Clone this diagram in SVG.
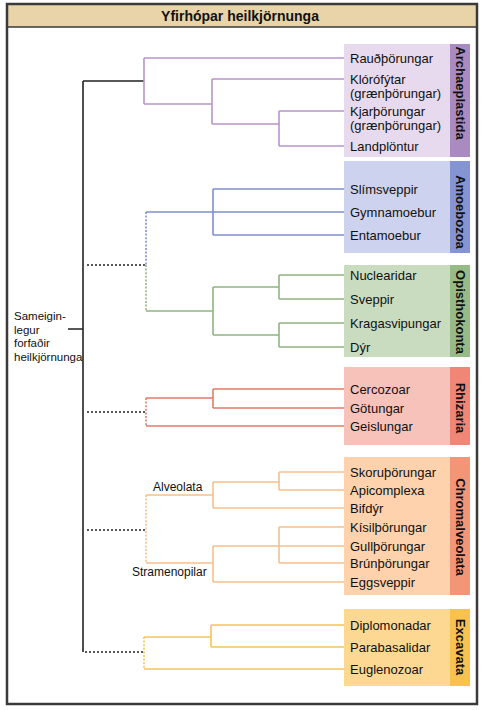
<svg xmlns="http://www.w3.org/2000/svg" width="485" height="710" viewBox="0 0 485 710">
<style>
text{font-family:"Liberation Sans",Arial,sans-serif;fill:#111}
.leaf{font-size:13px}
.grp{font-size:13px;font-weight:bold;text-anchor:middle}
.small{font-size:12px}
.anc{font-size:11.5px}
.ln{fill:none;stroke-width:1.6}
.dot{fill:none;stroke-width:1.6;stroke-dasharray:2 1.6}
.bdot{fill:none;stroke:#222;stroke-width:1.6;stroke-dasharray:2 2}
.pu{stroke:#b895cc}.bl{stroke:#7f90cc}.gr{stroke:#8fb581}.rd{stroke:#e77a69}.or{stroke:#f6c08c}.ye{stroke:#f4c45a}
</style>
<rect x="0" y="0" width="485" height="710" fill="#fff"/>
<g id="frame">
<rect x="7" y="4" width="470" height="23" fill="#e8d4a8"/>
<line x1="7" y1="27" x2="477" y2="27" stroke="#3a3a3a" stroke-width="1.5"/>
<rect x="7" y="4" width="470" height="700" fill="none" stroke="#3a3a3a" stroke-width="2.5"/>
<text x="240" y="21" font-size="14" font-weight="bold" text-anchor="middle">Yfirhópar heilkjörnunga</text>
</g>
<g id="connectors">
<path d="M83 81V652M68 329H83M83 81H144" fill="none" stroke="#222" stroke-width="1.6"/>
<path class="bdot" d="M87 265H146M87 412H146M87 530H146M85 652H144"/>
<path class="ln pu" d="M144 58V104M144 58H344M144 104H212M212 79V124M212 79H344M212 124H279M279 111V146M279 111H344M279 146H344"/>
<path class="ln bl" d="M146 212H344M213 189V235M213 189H344M213 235H344"/>
<path class="dot bl" d="M146 212V265"/>
<path class="dot gr" d="M146 265V311"/>
<path class="ln gr" d="M146 311H213M213 287V335M213 287H279M213 335H279M279 275V299M279 275H344M279 299H344M279 323V347M279 323H344M279 347H344"/>
<path class="dot rd" d="M146 398V426"/>
<path class="ln rd" d="M146 398H213M213 389V408M213 389H344M213 408H344M146 426H344"/>
<path class="dot or" d="M146 495V563"/>
<path class="ln or" d="M146 495H213M213 482V508M213 482H279M279 472V490M279 472H344M279 490H344M213 508H344M146 563H213M213 546V582M213 546H344M279 527V563M279 527H344M279 563H344M213 582H344"/>
<path class="dot ye" d="M144 637V669"/>
<path class="ln ye" d="M144 637H211M211 625V647M211 625H344M211 647H344M144 669H344"/>
</g>
<g id="root-label">
<text class="anc" x="14" y="320">Sameigin-</text>
<text class="anc" x="14" y="333.5">legur</text>
<text class="anc" x="14" y="347">forfaðir</text>
<text class="anc" x="14" y="360.5">heilkjörnunga</text>
</g>
<g id="archaeplastida">
<rect x="344" y="44" width="126" height="113" fill="#e7daef"/>
<rect x="450" y="44" width="20" height="113" fill="#a98bc2"/>
<text class="grp" transform="translate(460,93) rotate(90)" y="4.5">Archaeplastida</text>
<text class="leaf" x="350" y="62.5">Rauðþörungar</text>
<text class="leaf" x="350" y="83.5">Klórófýtar</text>
<text class="leaf" x="350" y="97.5">(grænþörungar)</text>
<text class="leaf" x="350" y="115.5">Kjarþörungar</text>
<text class="leaf" x="350" y="129.5">(grænþörungar)</text>
<text class="leaf" x="350" y="150.5">Landplöntur</text>
</g>
<g id="amoebozoa">
<rect x="344" y="161" width="126" height="92" fill="#cdd3ee"/>
<rect x="450" y="161" width="20" height="92" fill="#8594d3"/>
<text class="grp" transform="translate(460,212) rotate(90)" y="4.5">Amoebozoa</text>
<text class="leaf" x="350" y="193.5">Slímsveppir</text>
<text class="leaf" x="350" y="216.5">Gymnamoebur</text>
<text class="leaf" x="350" y="239.5">Entamoebur</text>
</g>
<g id="opisthokonta">
<rect x="344" y="265" width="126" height="92" fill="#c9dcc0"/>
<rect x="450" y="265" width="20" height="92" fill="#97bb86"/>
<text class="grp" transform="translate(460,312) rotate(90)" y="4.5">Opisthokonta</text>
<text class="leaf" x="350" y="279.5">Nuclearidar</text>
<text class="leaf" x="350" y="303.5">Sveppir</text>
<text class="leaf" x="350" y="327.5">Kragasvipungar</text>
<text class="leaf" x="350" y="351.5">Dýr</text>
</g>
<g id="rhizaria">
<rect x="344" y="367" width="126" height="78" fill="#f7c2b9"/>
<rect x="450" y="367" width="20" height="78" fill="#ef8676"/>
<text class="grp" transform="translate(460,408) rotate(90)" y="4.5">Rhizaria</text>
<text class="leaf" x="350" y="393.5">Cercozoar</text>
<text class="leaf" x="350" y="412.5">Götungar</text>
<text class="leaf" x="350" y="430.5">Geislungar</text>
</g>
<g id="chromalveolata">
<rect x="344" y="457" width="126" height="138" fill="#fdd2ac"/>
<rect x="450" y="457" width="20" height="138" fill="#f29677"/>
<text class="grp" transform="translate(460,527) rotate(90)" y="4.5">Chromalveolata</text>
<text class="leaf" x="350" y="476.5">Skoruþörungar</text>
<text class="leaf" x="350" y="494.5">Apicomplexa</text>
<text class="leaf" x="350" y="512.5">Bifdýr</text>
<text class="leaf" x="350" y="531.5">Kísilþörungar</text>
<text class="leaf" x="350" y="550.5">Gullþörungar</text>
<text class="leaf" x="350" y="567.5">Brúnþörungar</text>
<text class="leaf" x="350" y="586.5">Eggsveppir</text>
<text class="small" x="153" y="491">Alveolata</text>
<text class="small" x="132" y="576">Stramenopilar</text>
</g>
<g id="excavata">
<rect x="344" y="609" width="126" height="77" fill="#fcd892"/>
<rect x="450" y="609" width="20" height="77" fill="#f7c24f"/>
<text class="grp" transform="translate(460,647) rotate(90)" y="4.5">Excavata</text>
<text class="leaf" x="350" y="629.5">Diplomonadar</text>
<text class="leaf" x="350" y="651.5">Parabasalidar</text>
<text class="leaf" x="350" y="673.5">Euglenozoar</text>
</g>
</svg>
